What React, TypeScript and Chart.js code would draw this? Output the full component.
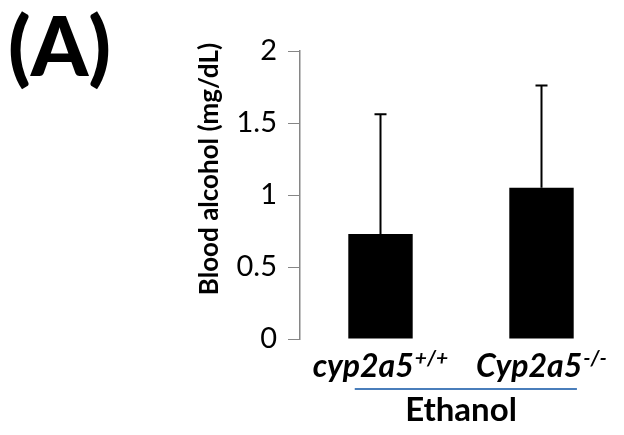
import React, { useEffect, useRef } from "react";
import { Chart, registerables } from "chart.js";

Chart.register(...registerables);

const categories = ["cyp2a5", "Cyp2a5"];
const genotypes = ["+/+", "-/-"];
const bloodAlcohol = [0.73, 1.05];
const errorUpper = [0.83, 0.71];
const yMin = 0;
const yMax = 2;
const yStep = 0.5;
const groupLabel = "Ethanol";
const panelLabel = "(A)";
const yTitle = "Blood alcohol (mg/dL)";

const FONT = "Lato, 'Open Sans', sans-serif";

const annotations = {
  id: "annotations",
  afterDatasetsDraw(chart: any) {
    const ctx = chart.ctx as CanvasRenderingContext2D;
    const xs = chart.scales.x;
    const ys = chart.scales.y;
    const area = chart.chartArea;
    ctx.save();
    // error bars (upper only)
    ctx.strokeStyle = "#000";
    ctx.lineWidth = 2;
    bloodAlcohol.forEach((v, i) => {
      const x = xs.getPixelForValue(i);
      const y0 = ys.getPixelForValue(v);
      const y1 = ys.getPixelForValue(v + errorUpper[i]);
      ctx.beginPath();
      ctx.moveTo(x, y0);
      ctx.lineTo(x, y1);
      ctx.moveTo(x - 6, y1);
      ctx.lineTo(x + 6, y1);
      ctx.stroke();
    });

    // category labels with superscripts
    const base = area.bottom + 38;
    const mainFont = `italic bold 32px ${FONT}`;
    const supFont = `italic bold 21px ${FONT}`;
    ctx.fillStyle = "#000";
    ctx.textBaseline = "alphabetic";
    ctx.textAlign = "left";
    categories.forEach((c, i) => {
      ctx.font = mainFont;
      const w1 = ctx.measureText(c).width;
      ctx.font = supFont;
      const w2 = ctx.measureText(genotypes[i]).width;
      const cx = xs.getPixelForValue(i);
      const x0 = cx - (w1 + w2 + 1) / 2;
      ctx.font = mainFont;
      ctx.fillText(c, x0, base);
      ctx.font = supFont;
      ctx.fillText(genotypes[i], x0 + w1 + 1, base - 12);
    });

    // group bracket line
    const step = xs.getPixelForValue(1) - xs.getPixelForValue(0);
    const lx0 = xs.getPixelForValue(0) - 0.16 * step;
    const lx1 = xs.getPixelForValue(1) + 0.22 * step;
    const ly = area.bottom + 50;
    ctx.strokeStyle = "#4a7ebb";
    ctx.lineWidth = 2;
    ctx.beginPath();
    ctx.moveTo(lx0, ly);
    ctx.lineTo(lx1, ly);
    ctx.stroke();

    // group label
    ctx.font = `bold 33px ${FONT}`;
    ctx.textAlign = "center";
    const mid = (xs.getPixelForValue(0) + xs.getPixelForValue(1)) / 2;
    ctx.fillText(groupLabel, mid, area.bottom + 82);

    // y axis title
    ctx.save();
    ctx.translate(area.left - 90, ys.getPixelForValue(1.18));
    ctx.rotate(-Math.PI / 2);
    ctx.font = `bold 26px ${FONT}`;
    ctx.textAlign = "center";
    ctx.textBaseline = "middle";
    ctx.fillText(yTitle, 0, 0);
    ctx.restore();

    // panel label
    ctx.font = `900 82px ${FONT}`;
    ctx.textAlign = "left";
    ctx.textBaseline = "alphabetic";
    ctx.fillText(panelLabel, 8, 76);
    ctx.restore();
  },
};

export default function App() {
  const ref = useRef<HTMLCanvasElement | null>(null);
  useEffect(() => {
    if (!ref.current) return;
    const chart = new Chart(ref.current, {
      type: "bar",
      data: {
        labels: categories,
        datasets: [
          {
            data: bloodAlcohol,
            backgroundColor: "#000000",
            borderWidth: 0,
            categoryPercentage: 0.8,
            barPercentage: 0.5,
          },
        ],
      },
      options: {
        animation: false,
        responsive: false,
        devicePixelRatio: 1,
        layout: { padding: { left: 195, top: 51, right: 2, bottom: 96 } },
        plugins: {
          legend: { display: false },
          tooltip: { enabled: false },
        },
        scales: {
          x: { display: false },
          y: {
            min: yMin,
            max: yMax,
            ticks: {
              stepSize: yStep,
              color: "#000",
              padding: 11,
              font: { family: FONT, size: 29 },
              callback: (v: any) => String(Number(v)),
            },
            grid: {
              drawOnChartArea: false,
              drawTicks: true,
              tickLength: 12,
              color: "#868686",
              lineWidth: 1,
            },
            border: { display: true, color: "#868686", width: 1.5 },
            title: { display: false },
            afterFit: (s: any) => {
              s.width = 105;
            },
          },
        },
      },
      plugins: [annotations],
    });
    return () => chart.destroy();
  }, []);
  return (
    <div style={{ position: "fixed", left: 0, top: 0, width: 624, height: 435, background: "#fff" }}>
      <canvas ref={ref} width={624} height={435} style={{ width: 624, height: 435 }} />
    </div>
  );
}
